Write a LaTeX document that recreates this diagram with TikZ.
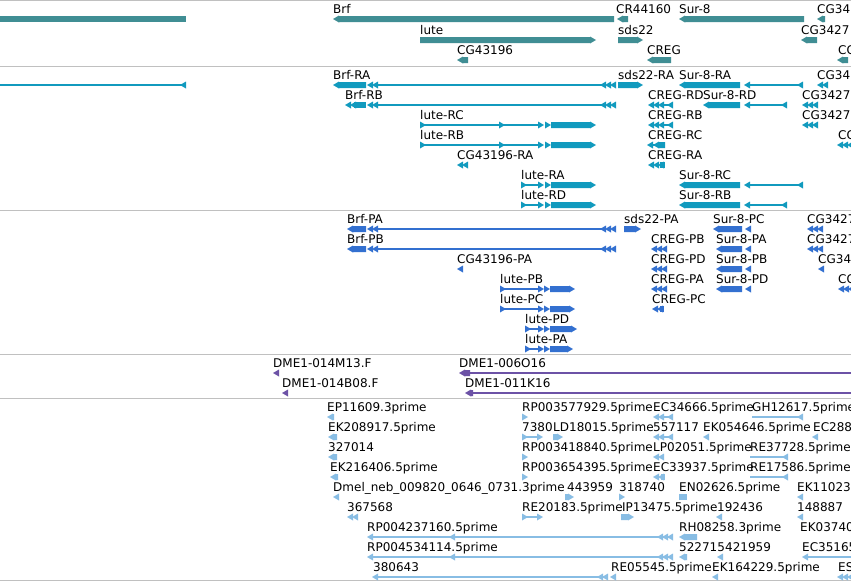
\documentclass[tikz,border=0pt]{standalone}
\usepackage{fontspec}
\setmainfont{DejaVu Sans}

\definecolor{genecol}{RGB}{64,142,148}
\definecolor{txcol}{RGB}{17,154,190}
\definecolor{protcol}{RGB}{51,112,208}
\definecolor{baccol}{RGB}{108,82,166}
\definecolor{estcol}{RGB}{136,189,228}
\definecolor{sepcol}{RGB}{192,192,192}

% glyphs, coordinates in screen pixels (x right, y down)
\newcommand{\gTriL}[3]{\fill[#3] (#1,#2) -- (#1+6,#2-3.5) -- (#1+6,#2+3.5) -- cycle;}
\newcommand{\gTriR}[3]{\fill[#3] (#1+6,#2) -- (#1,#2-3.5) -- (#1,#2+3.5) -- cycle;}
\newcommand{\gChevL}[4]{\foreach \ci in {1,...,#3}{\gTriL{#1+5*\ci-5}{#2}{#4}}}
\newcommand{\gBox}[4]{\fill[#4] (#1,#3-3) rectangle (#2,#3+3);}
\newcommand{\gBoxL}[4]{\fill[#4] (#1,#3) -- (#1+6,#3-3.5) -- (#1+6,#3-3) -- (#2,#3-3) -- (#2,#3+3) -- (#1+6,#3+3) -- (#1+6,#3+3.5) -- cycle;}
\newcommand{\gBoxR}[4]{\fill[#4] (#2,#3) -- (#2-6,#3-3.5) -- (#2-6,#3-3) -- (#1,#3-3) -- (#1,#3+3) -- (#2-6,#3+3) -- (#2-6,#3+3.5) -- cycle;}
\newcommand{\gLine}[4]{\draw[#4,line width=1.1] (#1,#3) -- (#2,#3);}

\tikzset{
  lbl/.style={anchor=base west,inner sep=0pt,font=\fontsize{12}{14}\selectfont},
  sep/.style={draw=sepcol,line width=1.3},
  genebar/.style={color=genecol},
  txbar/.style={color=txcol},
  protbar/.style={color=protcol},
  bacbar/.style={color=baccol},
  estbar/.style={color=estcol}
}

\begin{document}
\begin{tikzpicture}[x=1pt,y=-1pt]
  \useasboundingbox (0,0) rectangle (851,582);
  \clip (0,0) rectangle (851,582);
  \fill[white] (0,0) rectangle (851,582);

  % track separators
  \draw[sep] (0,0.7) -- (851,0.7);
  \draw[sep] (0,66.3) -- (851,66.3);
  \draw[sep] (0,210.3) -- (851,210.3);
  \draw[sep] (0,354.3) -- (851,354.3);
  \draw[sep] (0,398.3) -- (851,398.3);
  \draw[sep] (0,580.7) -- (851,580.7);

  % genes
  \node[lbl] (brf) at (333,13) {Brf};
  \node[lbl] (cr44160) at (616,13) {CR44160};
  \node[lbl] (sur8) at (679,13) {Sur-8};
  \node[lbl] (cg34a) at (817,13) {CG34};
  \node[lbl] (lute) at (420,34) {lute};
  \node[lbl] (sds22) at (618,34) {sds22};
  \node[lbl] (cg3427a) at (801,34) {CG3427};
  \node[lbl] (cg43196) at (457,54) {CG43196};
  \node[lbl] (creg) at (647,54) {CREG};
  \node[lbl] (cga) at (838,54) {CG};
  \gBox{0}{186}{19}{genebar}
  \gBoxL{333}{614}{19}{genebar}
  \gBoxL{617}{628}{19}{genebar}
  \gBoxL{679}{804}{19}{genebar}
  \gBoxL{817}{825}{19}{genebar}
  \gBoxR{420}{596}{40}{genebar}
  \gBoxR{618}{643}{40}{genebar}
  \gBoxL{801}{817}{40}{genebar}
  \gBoxL{457}{468}{60}{genebar}
  \gBoxL{647}{671}{60}{genebar}
  \gBoxL{837}{848}{60}{genebar}

  % transcripts
  \node[lbl] (brfra) at (333,79) {Brf-RA};
  \node[lbl] (sds22ra) at (618,79) {sds22-RA};
  \node[lbl] (sur8ra) at (679,79) {Sur-8-RA};
  \node[lbl] (cg34b) at (817,79) {CG34};
  \node[lbl] (brfrb) at (345,99) {Brf-RB};
  \node[lbl] (cregrd) at (648,99) {CREG-RD};
  \node[lbl] (sur8rd) at (703,99) {Sur-8-RD};
  \node[lbl] (cg3427b) at (802,99) {CG3427};
  \node[lbl] (luterc) at (420,119) {lute-RC};
  \node[lbl] (cregrb) at (648,119) {CREG-RB};
  \node[lbl] (cg3427c) at (802,119) {CG3427};
  \node[lbl] (luterb) at (420,139) {lute-RB};
  \node[lbl] (cregrc) at (648,139) {CREG-RC};
  \node[lbl] (cgb) at (838,139) {CG};
  \node[lbl] (cg43196ra) at (457,159) {CG43196-RA};
  \node[lbl] (cregra) at (648,159) {CREG-RA};
  \node[lbl] (lutera) at (521,179) {lute-RA};
  \node[lbl] (sur8rc) at (679,179) {Sur-8-RC};
  \node[lbl] (luterd) at (521,199) {lute-RD};
  \node[lbl] (sur8rb) at (679,199) {Sur-8-RB};
  \gLine{0}{182}{85}{txbar} \gTriL{180}{85}{txbar}
  \gBoxL{333}{366}{85}{txbar} \gChevL{367}{85}{2}{txbar} \gLine{376}{602}{85}{txbar} \gChevL{600}{85}{3}{txbar}
  \gBoxR{618}{643}{85}{txbar}
  \gBoxL{679}{740}{85}{txbar} \gTriL{744}{85}{txbar} \gLine{749}{800}{85}{txbar} \gTriL{797}{85}{txbar}
  \gChevL{817}{85}{2}{txbar}
  \gChevL{345}{105}{2}{txbar} \gBox{354}{366}{105}{txbar} \gChevL{367}{105}{2}{txbar} \gLine{376}{602}{105}{txbar} \gChevL{600}{105}{3}{txbar}
  \gChevL{648}{105}{3}{txbar} \gLine{660}{670}{105}{txbar} \gTriL{667}{105}{txbar}
  \gBoxL{703}{740}{105}{txbar} \gTriL{744}{105}{txbar} \gLine{749}{784}{105}{txbar} \gTriL{781}{105}{txbar}
  \gChevL{802}{105}{3}{txbar}
  \gTriR{420}{125}{txbar} \gLine{424}{540}{125}{txbar} \gTriR{499}{125}{txbar} \gTriR{538}{125}{txbar} \gTriR{545}{125}{txbar} \gBoxR{551}{596}{125}{txbar}
  \gChevL{648}{125}{3}{txbar} \gLine{660}{670}{125}{txbar} \gTriL{667}{125}{txbar}
  \gChevL{802}{125}{3}{txbar}
  \gTriR{420}{145}{txbar} \gLine{424}{540}{145}{txbar} \gTriR{499}{145}{txbar} \gTriR{538}{145}{txbar} \gTriR{545}{145}{txbar} \gBoxR{551}{596}{145}{txbar}
  \gTriL{647}{145}{txbar} \gLine{650}{656}{145}{txbar} \gBoxL{653}{665}{145}{txbar}
  \gChevL{837}{145}{3}{txbar}
  \gChevL{457}{165}{2}{txbar}
  \gChevL{648}{165}{3}{txbar} \gBox{660}{665}{165}{txbar}
  \gTriR{521}{185}{txbar} \gLine{524}{540}{185}{txbar} \gTriR{538}{185}{txbar} \gTriR{545}{185}{txbar} \gBoxR{551}{596}{185}{txbar}
  \gBoxL{679}{740}{185}{txbar} \gTriL{744}{185}{txbar} \gLine{749}{800}{185}{txbar} \gTriL{797}{185}{txbar}
  \gTriR{521}{205}{txbar} \gLine{524}{540}{205}{txbar} \gTriR{538}{205}{txbar} \gTriR{545}{205}{txbar} \gBoxR{551}{596}{205}{txbar}
  \gBoxL{679}{740}{205}{txbar} \gTriL{744}{205}{txbar} \gLine{749}{784}{205}{txbar} \gTriL{781}{205}{txbar}

  % proteins
  \node[lbl] (brfpa) at (347,223) {Brf-PA};
  \node[lbl] (sds22pa) at (624,223) {sds22-PA};
  \node[lbl] (sur8pc) at (713,223) {Sur-8-PC};
  \node[lbl] (cg3427d) at (807,223) {CG3427};
  \node[lbl] (brfpb) at (347,243) {Brf-PB};
  \node[lbl] (cregpb) at (651,243) {CREG-PB};
  \node[lbl] (sur8pa) at (716,243) {Sur-8-PA};
  \node[lbl] (cg3427e) at (807,243) {CG3427};
  \node[lbl] (cg43196pa) at (457,263) {CG43196-PA};
  \node[lbl] (cregpd) at (651,263) {CREG-PD};
  \node[lbl] (sur8pb) at (716,263) {Sur-8-PB};
  \node[lbl] (cg34c) at (818,263) {CG34};
  \node[lbl] (lutepb) at (500,283) {lute-PB};
  \node[lbl] (cregpa) at (651,283) {CREG-PA};
  \node[lbl] (sur8pd) at (716,283) {Sur-8-PD};
  \node[lbl] (cgc) at (838,283) {CG};
  \node[lbl] (lutepc) at (500,303) {lute-PC};
  \node[lbl] (cregpc) at (652,303) {CREG-PC};
  \node[lbl] (lutepd) at (525,323) {lute-PD};
  \node[lbl] (lutepa) at (525,343) {lute-PA};
  \gBoxL{347}{366}{229}{protbar} \gChevL{367}{229}{2}{protbar} \gLine{376}{602}{229}{protbar} \gChevL{600}{229}{3}{protbar}
  \gBoxR{624}{641}{229}{protbar}
  \gBoxL{713}{742}{229}{protbar} \gTriL{745}{229}{protbar}
  \gChevL{807}{229}{3}{protbar}
  \gBoxL{347}{366}{249}{protbar} \gChevL{367}{249}{2}{protbar} \gLine{376}{602}{249}{protbar} \gChevL{600}{249}{3}{protbar}
  \gChevL{651}{249}{3}{protbar}
  \gBoxL{716}{742}{249}{protbar} \gTriL{745}{249}{protbar}
  \gChevL{807}{249}{3}{protbar}
  \gTriL{457}{269}{protbar}
  \gChevL{651}{269}{3}{protbar}
  \gBoxL{716}{742}{269}{protbar} \gTriL{745}{269}{protbar}
  \gTriL{818}{269}{protbar}
  \gTriR{500}{289}{protbar} \gLine{503}{540}{289}{protbar} \gTriR{538}{289}{protbar} \gTriR{544}{289}{protbar} \gBoxR{550}{575}{289}{protbar}
  \gChevL{651}{289}{3}{protbar}
  \gBoxL{716}{742}{289}{protbar} \gTriL{745}{289}{protbar}
  \gChevL{838}{289}{3}{protbar}
  \gTriR{500}{309}{protbar} \gLine{503}{540}{309}{protbar} \gTriR{538}{309}{protbar} \gTriR{544}{309}{protbar} \gBoxR{550}{575}{309}{protbar}
  \gChevL{652}{309}{2}{protbar} \gBox{660}{664}{309}{protbar}
  \gTriR{525}{329}{protbar} \gLine{528}{540}{329}{protbar} \gTriR{538}{329}{protbar} \gTriR{544}{329}{protbar} \gBoxR{550}{577}{329}{protbar}
  \gTriR{525}{349}{protbar} \gLine{528}{540}{349}{protbar} \gTriR{538}{349}{protbar} \gTriR{544}{349}{protbar} \gBoxR{550}{573}{349}{protbar}

  % BAC ends
  \node[lbl] (dmeA) at (273,367) {DME1-014M13.F};
  \node[lbl] (dmeB) at (459,367) {DME1-006O16};
  \node[lbl] (dmeC) at (282,387) {DME1-014B08.F};
  \node[lbl] (dmeD) at (465,387) {DME1-011K16};
  \gTriL{273}{373}{bacbar}
  \gBoxL{459}{470}{373}{bacbar} \gLine{465}{851}{373}{bacbar}
  \gTriL{282}{393}{bacbar}
  \gBoxL{465}{473}{393}{bacbar} \gLine{470}{851}{393}{bacbar}

  % ESTs
  \node[lbl] (ep11609) at (327,411) {EP11609.3prime};
  \node[lbl] (rp3577929) at (522,411) {RP003577929.5prime};
  \node[lbl] (ec34666) at (653,411) {EC34666.5prime};
  \node[lbl] (gh12617) at (752,411) {GH12617.5prime};
  \node[lbl] (ek208917) at (328,431) {EK208917.5prime};
  \node[lbl] (e7380) at (522,431) {7380};
  \node[lbl] (ld18015) at (553,431) {LD18015.5prime};
  \node[lbl] (e557117) at (653,431) {557117};
  \node[lbl] (ek054646) at (703,431) {EK054646.5prime};
  \node[lbl] (ec288) at (813,431) {EC288};
  \node[lbl] (e327014) at (328,451) {327014};
  \node[lbl] (rp3418840) at (522,451) {RP003418840.5prime};
  \node[lbl] (lp02051) at (653,451) {LP02051.5prime};
  \node[lbl] (re37728) at (750,451) {RE37728.5prime};
  \node[lbl] (ek216406) at (330,471) {EK216406.5prime};
  \node[lbl] (rp3654395) at (522,471) {RP003654395.5prime};
  \node[lbl] (ec33937) at (653,471) {EC33937.5prime};
  \node[lbl] (re17586) at (750,471) {RE17586.5prime};
  \node[lbl] (dmelneb) at (333,491) {Dmel\_neb\_009820\_0646\_0731.3prime};
  \node[lbl] (e443959) at (567,491) {443959};
  \node[lbl] (e318740) at (619,491) {318740};
  \node[lbl] (en02626) at (679,491) {EN02626.5prime};
  \node[lbl] (ek11023) at (797,491) {EK11023};
  \node[lbl] (e367568) at (347,511) {367568};
  \node[lbl] (re20183) at (522,511) {RE20183.5prime};
  \node[lbl] (ip13475) at (622,511) {IP13475.5prime};
  \node[lbl] (e192436) at (717,511) {192436};
  \node[lbl] (e148887) at (797,511) {148887};
  \node[lbl] (rp4237160) at (367,531) {RP004237160.5prime};
  \node[lbl] (rh08258) at (679,531) {RH08258.3prime};
  \node[lbl] (ek03740) at (800,531) {EK03740};
  \node[lbl] (rp4534114) at (367,551) {RP004534114.5prime};
  \node[lbl] (e522715) at (679,551) {522715};
  \node[lbl] (e421959) at (725,551) {421959};
  \node[lbl] (ec35165) at (802,551) {EC35165};
  \node[lbl] (e380643) at (373,571) {380643};
  \node[lbl] (re05545) at (611,571) {RE05545.5prime};
  \node[lbl] (ek164229) at (712,571) {EK164229.5prime};
  \node[lbl] (es) at (838,571) {ES};
  \gBoxL{327}{334}{417}{estbar}
  \gTriR{522}{417}{estbar}
  \gChevL{653}{417}{2}{estbar} \gLine{662}{670}{417}{estbar} \gTriL{667}{417}{estbar}
  \gLine{752}{800}{417}{estbar} \gTriL{797}{417}{estbar}
  \gBoxL{328}{337}{437}{estbar}
  \gTriR{522}{437}{estbar} \gLine{524}{540}{437}{estbar} \gTriR{537}{437}{estbar}
  \gBoxR{553}{563}{437}{estbar}
  \gChevL{653}{437}{2}{estbar} \gLine{662}{670}{437}{estbar} \gTriL{667}{437}{estbar}
  \gTriL{703}{437}{estbar}
  \gTriL{812}{437}{estbar}
  \gBoxL{328}{337}{457}{estbar}
  \gTriR{522}{457}{estbar}
  \gChevL{653}{457}{2}{estbar}
  \gLine{750}{785}{457}{estbar} \gTriL{782}{457}{estbar}
  \gBoxL{330}{338}{477}{estbar}
  \gTriR{522}{477}{estbar}
  \gChevL{653}{477}{2}{estbar} \gBox{661}{665}{477}{estbar}
  \gLine{750}{785}{477}{estbar} \gTriL{782}{477}{estbar}
  \gTriL{333}{497}{estbar}
  \gBoxR{565}{574}{497}{estbar}
  \gTriR{619}{497}{estbar}
  \gBox{679}{687}{497}{estbar}
  \gTriL{797}{497}{estbar}
  \gChevL{347}{517}{2}{estbar}
  \gTriR{522}{517}{estbar} \gLine{524}{540}{517}{estbar} \gTriR{537}{517}{estbar}
  \gBoxR{621}{634}{517}{estbar}
  \gTriL{716}{517}{estbar}
  \gTriL{797}{517}{estbar}
  \gTriL{367}{537}{estbar} \gLine{370}{670}{537}{estbar} \gTriL{449}{537}{estbar} \gChevL{657}{537}{2}{estbar} \gTriL{667}{537}{estbar}
  \gBoxL{679}{697}{537}{estbar}
  \gTriL{367}{557}{estbar} \gLine{370}{670}{557}{estbar} \gTriL{449}{557}{estbar} \gChevL{657}{557}{2}{estbar} \gTriL{667}{557}{estbar}
  \gBoxL{679}{687}{557}{estbar}
  \gTriL{717}{557}{estbar}
  \gTriL{802}{557}{estbar} \gLine{805}{851}{557}{estbar}
  \gTriL{372}{577}{estbar} \gLine{375}{605}{577}{estbar} \gChevL{597}{577}{2}{estbar}
  \gTriL{610}{577}{estbar}
  \gTriL{712}{577}{estbar}
  \gChevL{837}{577}{3}{estbar}
\end{tikzpicture}
\end{document}
